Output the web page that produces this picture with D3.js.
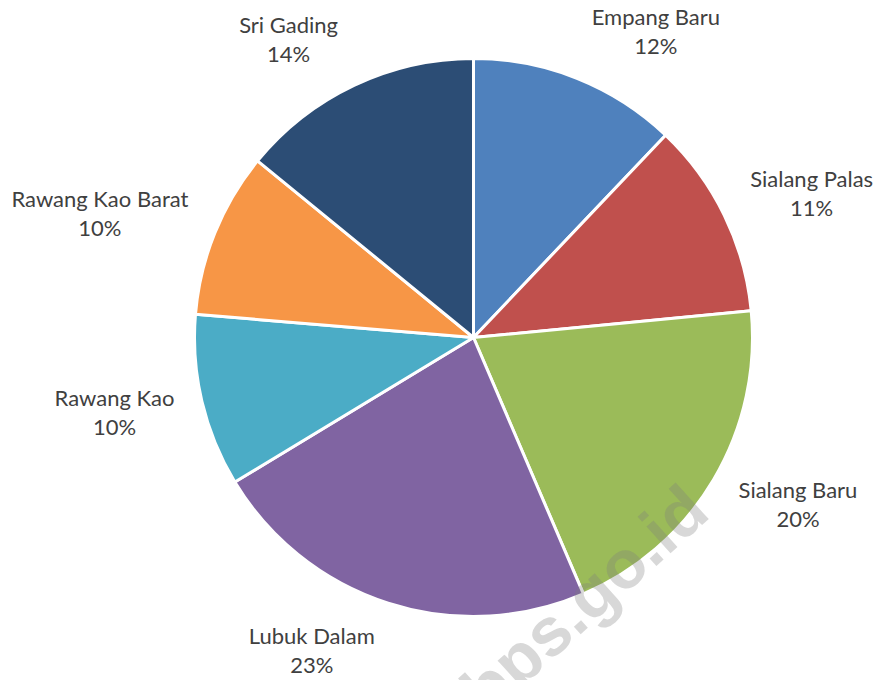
<!DOCTYPE html>
<html>
<head>
<meta charset="utf-8">
<script src="https://cdn.jsdelivr.net/npm/d3@7"></script>
<style>
  body { margin: 0; background: #fff; }
  text { font-family: Lato, "Open Sans", sans-serif; }
</style>
</head>
<body>
<svg id="chart" width="881" height="680"></svg>
<script>
// slice names, clockwise from 12 o'clock
const villages = ['Empang Baru', 'Sialang Palas', 'Sialang Baru', 'Lubuk Dalam', 'Rawang Kao', 'Rawang Kao Barat', 'Sri Gading'];
// share values
const shares = [12.1, 11.4, 20.1, 22.8, 10.0, 9.6, 14.1];
const sliceColors = ['#4f81bd', '#c0504d', '#9bbb59', '#8064a2', '#4bacc6', '#f79646', '#2c4d75'];

const width = 881, height = 680;
const cx = 473.5, cy = 337.5, radius = 279;

const svg = d3.select('#chart');
const data = villages.map((name, i) => ({ name, value: shares[i] }));
const total = d3.sum(shares);
const fmt = d3.format('.0%');

const pie = d3.pie().sort(null).value(d => d.value);
const arc = d3.arc().innerRadius(0).outerRadius(radius);
const color = d3.scaleOrdinal(villages, sliceColors);

const g = svg.append('g').attr('transform', `translate(${cx},${cy})`);

g.selectAll('path')
  .data(pie(data))
  .join('path')
  .attr('d', arc)
  .attr('fill', d => color(d.data.name))
  .attr('stroke', '#fff')
  .attr('stroke-width', 3)
  .attr('stroke-linejoin', 'round');

// labels sit just outside the rim, boxed to one side like office charts do
const fontSize = 22, lineH = 29, gap = 21;
const labels = g.selectAll('g.lbl')
  .data(pie(data))
  .join('g')
  .attr('class', 'lbl');

labels.each(function (d) {
  const el = d3.select(this);
  const t = el.append('text')
    .attr('text-anchor', 'middle')
    .attr('fill', '#404040')
    .style('font-size', fontSize + 'px');
  t.append('tspan').attr('x', 0).attr('y', -lineH / 2).attr('dy', '0.35em').text(d.data.name);
  t.append('tspan').attr('x', 0).attr('y', lineH / 2).attr('dy', '0.35em').text(fmt(d.data.value / total));

  const w = d3.max(t.selectAll('tspan').nodes(), n => n.getComputedTextLength());
  const h = lineH * 2;
  const mid = (d.startAngle + d.endAngle) / 2;
  const ux = Math.sin(mid), uy = -Math.cos(mid);
  const ax = ux * (radius + gap), ay = uy * (radius + gap);
  const bx = ax + Math.sign(ux) * (w / 2 + 7);
  const by = ay + uy * h / 2;
  el.attr('transform', `translate(${bx},${by})`);
});

// faint site watermark across the lower right (runs off the bottom edge, as in the source)
svg.append('text')
  .attr('transform', 'translate(712,516) rotate(-42)')
  .attr('text-anchor', 'end')
  .attr('fill', '#7f7f7f')
  .attr('fill-opacity', 0.3)
  .style('font-family', '"Liberation Sans", Arial, sans-serif')
  .style('font-weight', 'bold')
  .style('font-size', '68px')
  .text('bps.go.id');
</script>
</body>
</html>
